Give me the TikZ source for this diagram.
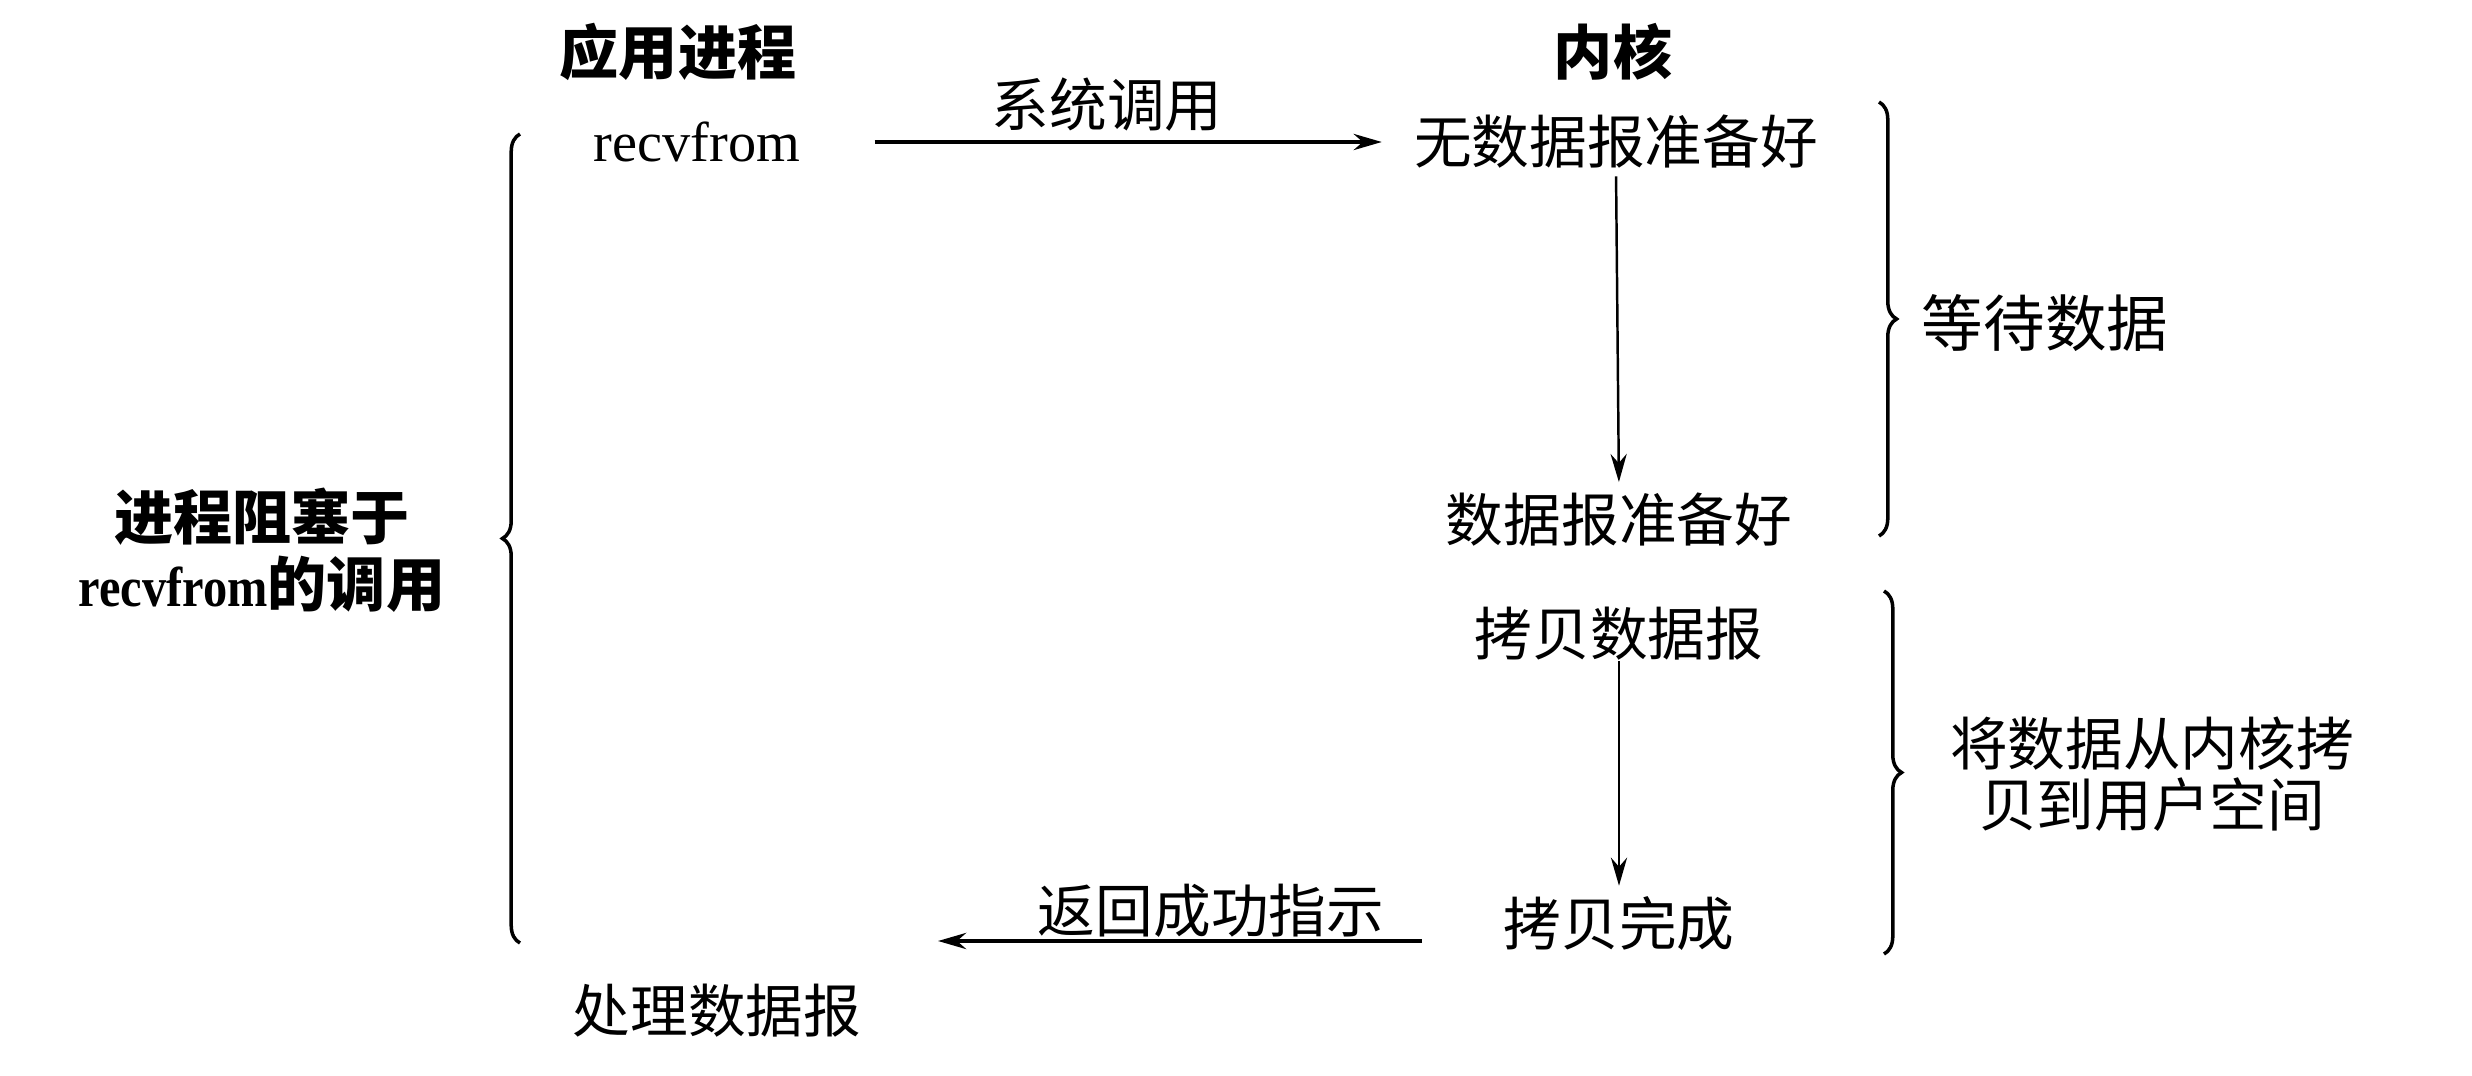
\documentclass[tikz,border=0pt]{standalone}
\usepackage{fontspec}
\usepackage{graphicx}
\setmainfont{Liberation Serif}
\newfontfamily\cjk{Noto Sans CJK SC}
\usetikzlibrary{arrows.meta,decorations.pathreplacing}
\begin{document}
\begin{tikzpicture}[x=0.01cm,y=-0.01cm,
  txt/.style={inner sep=0pt,font=\cjk\fontsize{16.4}{19}\selectfont,align=center},
  head/.style={inner sep=0pt,font=\cjk\bfseries\fontsize{16.8}{20}\selectfont},
  lbl/.style={inner sep=0pt,font=\cjk\bfseries\fontsize{16.8}{19}\selectfont,align=center},
  rlbl/.style={inner sep=0pt,font=\cjk\fontsize{16.4}{17.2}\selectfont,align=center},
  tip/.style={-{Stealth[length=8pt,width=4.6pt]}},
  brc/.style={decorate,decoration={brace,amplitude=5pt},line width=1pt}]
\useasboundingbox (0,0) rectangle (2472,1076);
% headers
\node[head] (hApp) at (678,52) {应用进程};
\node[head] (hKer) at (1613,52) {内核};
% application side
\node[inner sep=0pt,font=\fontsize{16}{19}\selectfont] (recv) at (697,142) {recvfrom};
\node[txt] (proc) at (717,1011) {处理数据报};
% kernel side
\node[txt] (nodata) at (1616,142) {无数据报准备好};
\node[txt] (ready) at (1619,520) {数据报准备好};
\node[txt] (copy) at (1619,634) {拷贝数据报};
\node[txt] (done) at (1619,924) {拷贝完成};
\coordinate (retEnd) at (938,941);
% arrows
\draw[tip,line width=1.1pt,shorten <=21pt,shorten >=9pt] (recv.east) -- node[txt,above=2.5pt] (callLbl) {系统调用} (nodata.west);
\draw[tip,line width=0.7pt,shorten <=2pt,shorten >=3pt] (nodata.south) -- (ready.north);
\draw[tip,line width=0.7pt,shorten >=3pt] (copy.south) -- (done.north);
\draw[tip,line width=1.1pt,shorten <=23pt] (done.west |- retEnd) -- (retEnd);
\node[txt] (retLbl) at (1211,911) {返回成功指示};
% braces
\draw[brc] (520,943) -- (520,134);
\draw[brc] (1879,102) -- (1879,536);
\draw[brc] (1884,591) -- (1884,954);
% brace labels
\node[lbl] (block) at (262,550) {进程阻塞于\\\scalebox{0.86}[1]{\rmfamily\bfseries\fontsize{16}{19}\selectfont recvfrom}的调用};
\node[txt,font=\cjk\fontsize{17.5}{19}\selectfont] (wait) at (2045,323) {等待数据};
\node[rlbl] (cpy) at (2152,774) {将数据从内核拷\\贝到用户空间};
\end{tikzpicture}
\end{document}
